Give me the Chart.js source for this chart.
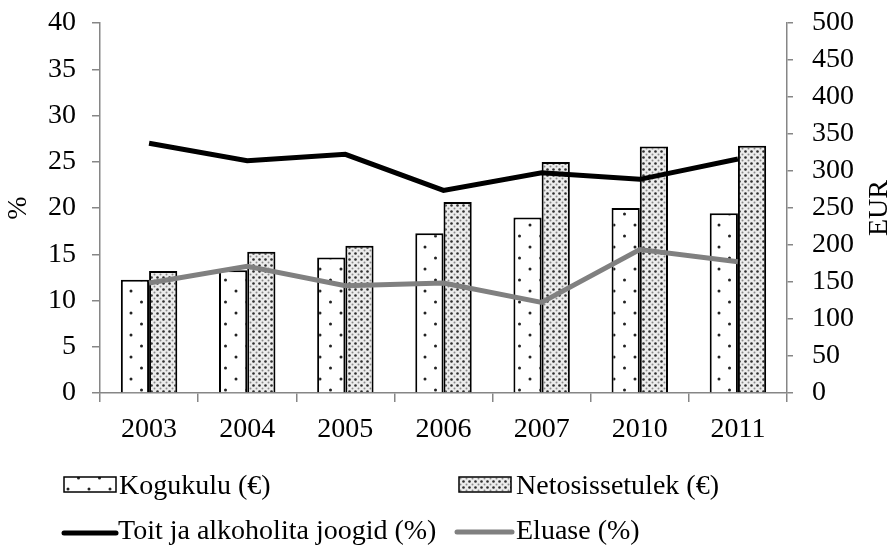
<!DOCTYPE html>
<html>
<head>
<meta charset="utf-8">
<script src="https://cdn.jsdelivr.net/npm/chart.js@4.4.1/dist/chart.umd.min.js"></script>
<style>
html,body{margin:0;padding:0;background:#fff;}
#wrap{position:relative;width:895px;height:548px;}
</style>
</head>
<body>
<div id="wrap"><canvas id="c" width="895" height="548"></canvas></div>
<script>
// ---- data ----
const categories = ["2003","2004","2005","2006","2007","2010","2011"];
const kogukulu = [153, 166, 183, 216, 237, 250, 243];        // EUR
const netosissetulek = [165, 191, 199, 258, 312, 333, 334];  // EUR
const toit = [27.0, 25.1, 25.8, 21.9, 23.8, 23.1, 25.3];     // %
const eluase = [11.9, 13.7, 11.6, 11.9, 9.8, 15.5, 14.2];    // %
const leftTicks = [0,5,10,15,20,25,30,35,40];
const rightTicks = [0,50,100,150,200,250,300,350,400,450,500];
const labels = ["Kogukulu (€)", "Netosissetulek (€)", "Toit ja alkoholita joogid (%)", "Eluase (%)"];
const axisTitles = ["%", "EUR"];

const FONT = "'Liberation Serif','Times New Roman',serif";
const AXIS = '#868686';

function sparsePattern(){
  const c = document.createElement('canvas'); c.width = 21; c.height = 22;
  const x = c.getContext('2d');
  x.fillStyle = '#fff'; x.fillRect(0,0,21,22);
  x.fillStyle = '#222';
  x.beginPath(); x.arc(5,5,1.5,0,Math.PI*2); x.fill();
  x.beginPath(); x.arc(15.5,16,1.5,0,Math.PI*2); x.fill();
  return x.createPattern(c,'repeat');
}
function densePattern(){
  const c = document.createElement('canvas'); c.width = 6; c.height = 6;
  const x = c.getContext('2d');
  x.fillStyle = '#ececec'; x.fillRect(0,0,6,6);
  x.fillStyle = '#2e2e2e';
  x.beginPath(); x.arc(1.5,1.5,1.3,0,Math.PI*2); x.fill();
  x.fillStyle = '#8a8a8a';
  x.beginPath(); x.arc(4.5,4.5,1.0,0,Math.PI*2); x.fill();
  return x.createPattern(c,'repeat');
}
const patK = sparsePattern();
const patN = densePattern();

const legendPlugin = {
  id: 'customLegend',
  afterDraw(chart){
    const ctx = chart.ctx;
    const ds = chart.data.datasets;
    ctx.save();
    ctx.font = '28px ' + FONT;
    ctx.fillStyle = '#000';
    ctx.textBaseline = 'middle';
    ctx.textAlign = 'left';
    const items = [
      {ds: ds[2], box:[64,477,52,15], tx:119, ty:487},
      {ds: ds[3], box:[459,477,52,15], tx:516, ty:487},
      {ds: ds[0], line:[64,116,533], tx:118, ty:532},
      {ds: ds[1], line:[457,512,532], tx:516, ty:532}
    ];
    items.forEach(it=>{
      if(it.box){
        const [bx,by,bw,bh] = it.box;
        ctx.fillStyle = it.ds.backgroundColor;
        ctx.fillRect(bx,by,bw,bh);
        ctx.lineWidth = 1.5; ctx.strokeStyle = '#000';
        ctx.strokeRect(bx,by,bw,bh);
      } else {
        const [x1,x2,y] = it.line;
        ctx.strokeStyle = it.ds.borderColor; ctx.lineWidth = 5; ctx.lineCap='round';
        ctx.beginPath(); ctx.moveTo(x1,y); ctx.lineTo(x2,y); ctx.stroke();
      }
      ctx.fillStyle = '#000';
      ctx.fillText(it.ds.label, it.tx, it.ty);
    });
    // axis titles
    ctx.font = '28px ' + FONT;
    ctx.textAlign = 'center';
    const ca = chart.chartArea;
    const cy = (ca.top + ca.bottom)/2;
    ctx.save(); ctx.translate(19, cy); ctx.rotate(-Math.PI/2); ctx.fillText(axisTitles[0],0,0); ctx.restore();
    ctx.save(); ctx.translate(880, cy); ctx.rotate(-Math.PI/2); ctx.fillText(axisTitles[1],0,0); ctx.restore();
    ctx.restore();
  }
};

new Chart(document.getElementById('c'), {
  data: {
    labels: categories,
    datasets: [
      {type:'line', label: labels[2], data: toit, yAxisID:'y', borderColor:'#000', borderWidth:5, pointRadius:0, tension:0, order:0, fill:false},
      {type:'line', label: labels[3], data: eluase, yAxisID:'y', borderColor:'#808080', borderWidth:5, pointRadius:0, tension:0, order:0, fill:false},
      {type:'bar', label: labels[0], data: kogukulu, yAxisID:'y2', backgroundColor: patK, borderColor:'#000', borderWidth:2, borderSkipped:'bottom', categoryPercentage:0.575, barPercentage:1.0, order:1},
      {type:'bar', label: labels[1], data: netosissetulek, yAxisID:'y2', backgroundColor: patN, borderColor:'#000', borderWidth:2, borderSkipped:'bottom', categoryPercentage:0.575, barPercentage:1.0, order:1}
    ]
  },
  options: {
    responsive:false,
    animation:false,
    layout:{padding:{top:23, bottom:0, left:0, right:0}},
    plugins:{legend:{display:false}, tooltip:{enabled:false}},
    scales:{
      x:{
        offset:true,
        grid:{offset:true, drawOnChartArea:false, color:AXIS, tickLength:9, lineWidth:1.5},
        border:{color:AXIS, width:1.5},
        ticks:{font:{family:FONT, size:28}, color:'#000', padding:11, maxRotation:0, autoSkip:false},
        afterFit(s){ s.height = 155; s.paddingLeft = 0; s.paddingRight = 0; }
      },
      y:{
        position:'left', min:0, max:40,
        afterBuildTicks(s){ s.ticks = leftTicks.map(v=>({value:v})); },
        grid:{drawOnChartArea:false, color:AXIS, tickLength:8, lineWidth:1.5},
        border:{color:AXIS, width:1.5},
        ticks:{font:{family:FONT, size:28}, color:'#000', padding:16, autoSkip:false},
        afterFit(s){ s.width = 100; s.paddingTop = 0; s.paddingBottom = 0; }
      },
      y2:{
        position:'right', min:0, max:500,
        afterBuildTicks(s){ s.ticks = rightTicks.map(v=>({value:v})); },
        grid:{drawOnChartArea:false, color:AXIS, tickLength:6, lineWidth:1.5},
        border:{color:AXIS, width:1.5},
        ticks:{font:{family:FONT, size:28}, color:'#000', padding:19, autoSkip:false},
        afterFit(s){ s.width = 108; s.paddingTop = 0; s.paddingBottom = 0; }
      }
    }
  },
  plugins:[legendPlugin]
});
</script>
</body>
</html>
